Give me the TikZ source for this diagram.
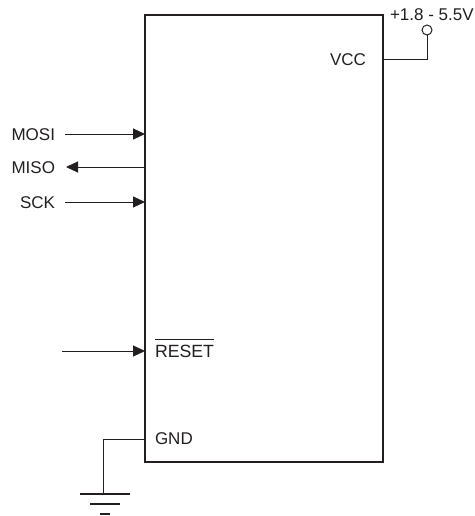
\documentclass[tikz,border=0pt]{standalone}
\usepackage{fontspec}
\setmainfont{Liberation Sans}
\usetikzlibrary{arrows.meta}
\definecolor{ink}{HTML}{231F20}
\tikzset{
  x=1pt,y=-1pt,
  every node/.style={inner sep=0pt,outer sep=0pt,text=ink,font=\fontsize{17}{20}\selectfont},
  wire/.style={draw=ink,line width=1pt},
  sig/.style={wire,-{Triangle[length=12pt,width=11pt]}},
  lbl/.style={anchor=base west},
  lblr/.style={anchor=base east},
  bar/.style={draw=ink,line width=2pt},
}
\begin{document}
\begin{tikzpicture}
\useasboundingbox (0,0) rectangle (474,516);
\node[draw=ink,line width=2.2pt,minimum width=238pt,minimum height=447pt,anchor=north west] (ic) at (145,15) {};
\coordinate (pmosi) at (145,134);
\coordinate (pmiso) at (145,167);
\coordinate (psck) at (145,202);
\coordinate (prst) at (145,351);
\coordinate (pgnd) at (145,439);
\coordinate (pvcc) at (383,60);
\node[lblr] (mosi) at (55,140) {MOSI};
\node[lblr] (miso) at (55,173.5) {MISO};
\node[lblr] (sck) at (55,208.5) {SCK};
\node[lbl,font=\fontsize{17.7}{20}\selectfont] (reset) at (155,357) {$\overline{\mbox{RESET}\rule{0pt}{16pt}}$};
\node[lbl] (gnd) at (155,444.5) {GND};
\node[lbl] (vcc) at (330,65.5) {VCC};
\node[lbl] (vlab) at (390,21) {+1.8 - 5.5V};
\coordinate (smosi) at (65,134);
\coordinate (smiso) at (66,167);
\coordinate (ssck) at (65,202);
\coordinate (srst) at (62,351);
\draw[sig] (smosi) -- (pmosi);
\draw[sig] (pmiso) -- (smiso);
\draw[sig] (ssck) -- (psck);
\draw[sig] (srst) -- (prst);
\node[draw=ink,line width=1pt,circle,minimum size=10pt] (vt) at (427,30) {};
\coordinate (vc) at (427,60);
\draw[wire] (pvcc) -- (vc) -- (vt.south);
\coordinate (gc) at (103,439);
\coordinate (g1) at (103,494);
\draw[wire] (pgnd) -- (gc) -- (g1);
\coordinate (g1l) at (80,494);
\coordinate (g1r) at (130,494);
\coordinate (g2l) at (90,504);
\coordinate (g2r) at (120,504);
\coordinate (g3l) at (100,514);
\coordinate (g3r) at (110,514);
\draw[bar] (g1l) -- (g1r);
\draw[bar] (g2l) -- (g2r);
\draw[bar] (g3l) -- (g3r);
\end{tikzpicture}
\end{document}
